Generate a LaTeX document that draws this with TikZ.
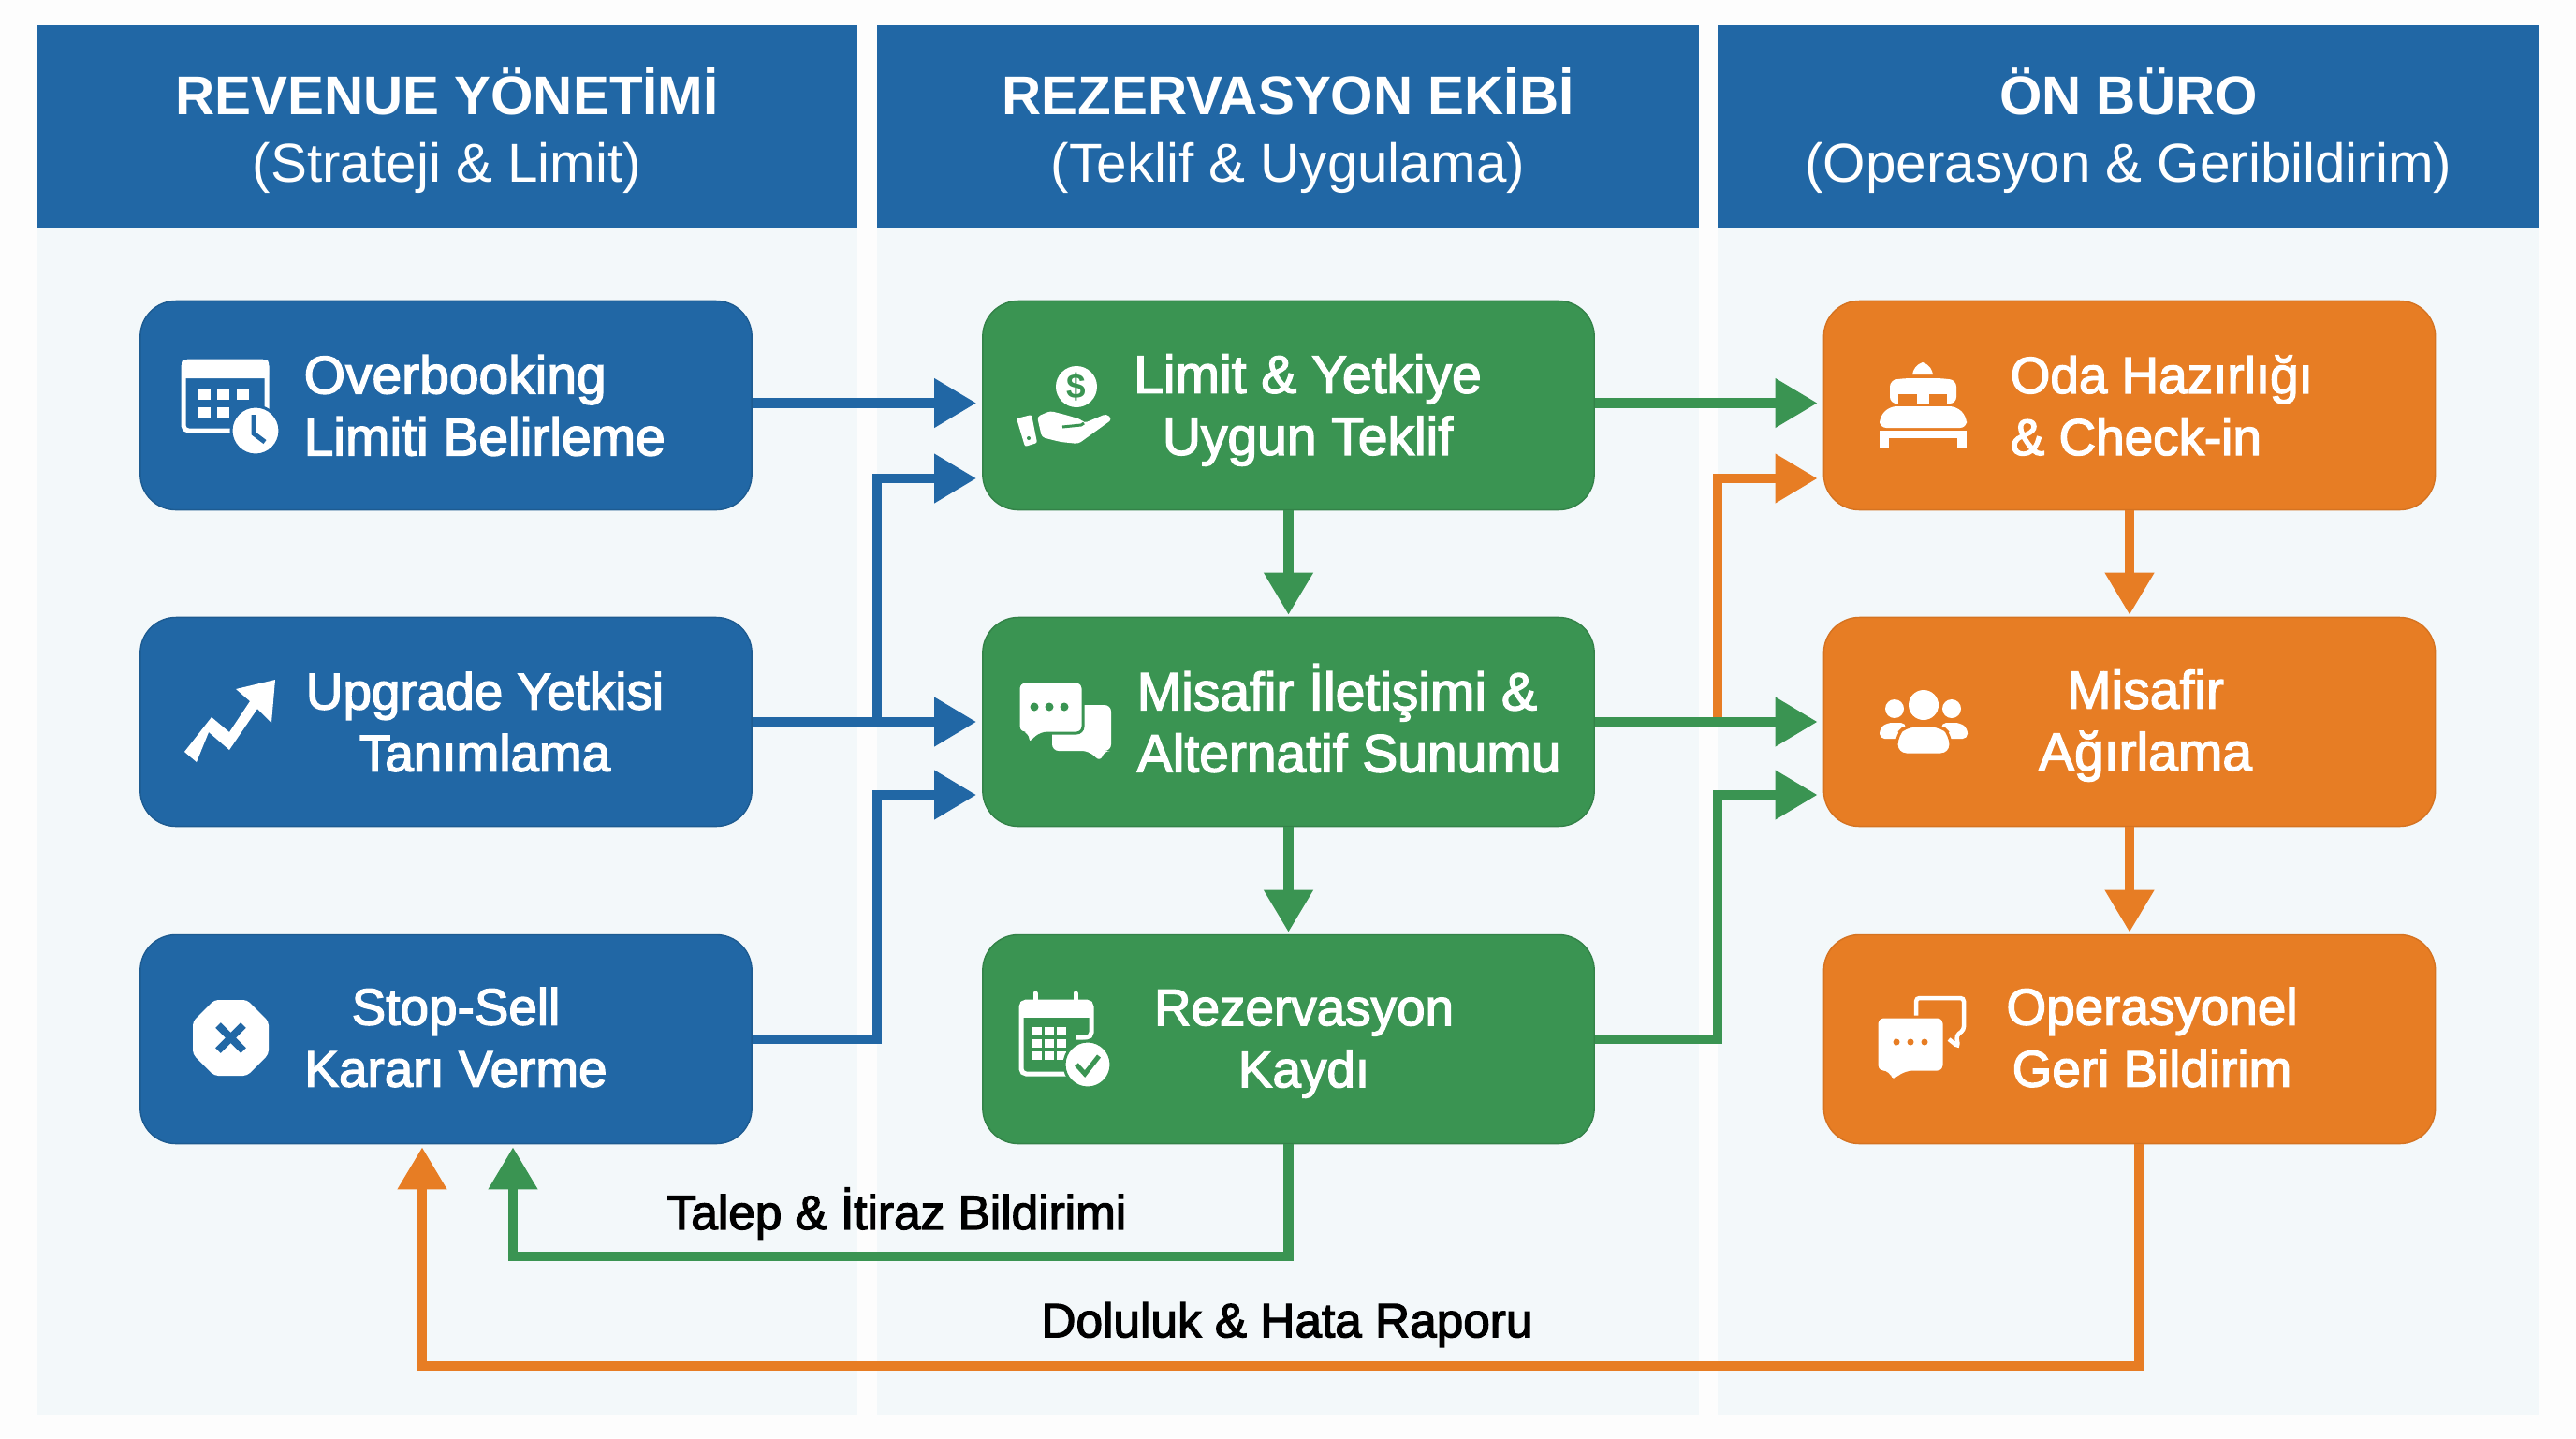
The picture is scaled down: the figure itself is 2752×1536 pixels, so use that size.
\documentclass[tikz,border=0pt]{standalone}
\usepackage{fontspec}
\setmainfont{Liberation Sans}
\newfontfamily\medfont{Liberation Sans}[FakeBold=2.5]
\usepackage{xcolor}
\usetikzlibrary{positioning,calc,arrows,arrows.meta}
\definecolor{hotelblue}{RGB}{33,103,165}
\definecolor{hotelgreen}{RGB}{58,148,82}
\definecolor{hotelorange}{RGB}{231,125,36}
\definecolor{panelbg}{RGB}{243,248,250}
\definecolor{pagebg}{RGB}{253,253,253}
\tikzset{
    headbox/.style={fill=hotelblue,minimum width=8.77cm,minimum height=2.17cm,inner sep=0pt,
        text=white,align=center,font=\fontsize{16.6}{20.5}\selectfont},
    panelbox/.style={fill=panelbg,minimum width=8.77cm,minimum height=12.67cm,inner sep=0pt},
    flowbox/.style={minimum width=6.53cm,minimum height=2.23cm,inner sep=0pt,rounded corners=0.38cm,line width=0.4pt},
    bluebox/.style={flowbox,fill=hotelblue,draw=hotelblue!88!black},
    greenbox/.style={flowbox,fill=hotelgreen,draw=hotelgreen!88!black},
    orangebox/.style={flowbox,fill=hotelorange,draw=hotelorange!92!black},
    boxtext/.style={text=white,inner sep=0pt,font=\medfont\fontsize{16.2}{18.8}\selectfont},
    boxtextsm/.style={text=white,inner sep=0pt,font=\medfont\fontsize{15.6}{18.8}\selectfont},
    flowlabel/.style={text=black,inner sep=0pt,font=\medfont\fontsize{14.6}{17}\selectfont},
    flowline/.style={line width=0.105cm,->,shorten >=0.06cm},
    bluearrow/.style={flowline,draw=hotelblue},
    greenarrow/.style={flowline,draw=hotelgreen},
    orangearrow/.style={flowline,draw=hotelorange},
}
\begin{document}
\begin{tikzpicture}[x=0.01cm,y=-0.01cm,>={Triangle[length=0.45cm,width=0.5cm]}]
    \useasboundingbox (0,0) rectangle (2752,1536);
    \fill[pagebg] (0,0) rectangle (2752,1536);

    %Columns
    \node[panelbox] (leftpanel) at (477.5,877.5) {};
    \node[panelbox] (midpanel) at (1376,877.5) {};
    \node[panelbox] (rightpanel) at (2274,877.5) {};
    \node[headbox] (revhead) at (477.5,135.5) {{\bfseries\rule{0pt}{16.5pt}REVENUE YÖNETİMİ}\\(Strateji \& Limit)};
    \node[headbox] (rezhead) at (1376,135.5) {{\bfseries\rule{0pt}{16.5pt}REZERVASYON EKİBİ}\\(Teklif \& Uygulama)};
    \node[headbox] (onhead) at (2274,135.5) {{\bfseries\rule{0pt}{16.5pt}ÖN BÜRO}\\(Operasyon \& Geribildirim)};

    %Boxes
    \node[bluebox] (over) at (476.5,433) {};
    \node[bluebox] (upgr) at (476.5,771) {};
    \node[bluebox] (stop) at (476.5,1110) {};
    \node[greenbox] (limit) at (1376.5,433) {};
    \node[greenbox] (guest) at (1376.5,771) {};
    \node[greenbox] (kayit) at (1376.5,1110) {};
    \node[orangebox] (oda) at (2275,433) {};
    \node[orangebox] (agir) at (2275,771) {};
    \node[orangebox] (oper) at (2275,1110) {};

    %Box texts
    \node[boxtext,align=left,anchor=west] (overtx) at (324,433) {Overbooking\\Limiti Belirleme};
    \node[boxtextsm,align=center] (upgrtx) at (518,771) {Upgrade Yetkisi\\Tanımlama};
    \node[boxtextsm,align=center] (stoptx) at (487,1108) {Stop-Sell\\Kararı Verme};
    \node[boxtext,align=center] (limittx) at (1397,438) {Limit \& Yetkiye\\Uygun Teklif};
    \node[boxtext,align=left,anchor=west] (guesttx) at (1214,767) {Misafir İletişimi \&\\Alternatif Sunumu};
    \node[boxtextsm,align=center] (kayittx) at (1393,1115) {Rezervasyon\\Kaydı};
    \node[boxtextsm,align=left,anchor=west] (odatx) at (2147,433) {Oda Hazırlığı\\\& Check-in};
    \node[boxtext,align=center] (agirtx) at (2292,775) {Misafir\\Ağırlama};
    \node[boxtextsm,align=center] (opertx) at (2299,1108) {Operasyonel\\Geri Bildirim};

    %Helper points
    \coordinate (limitlow) at ($(limit.west)+(0,78)$);
    \coordinate (guestlow) at ($(guest.west)+(0,78)$);
    \coordinate (odalow) at ($(oda.west)+(0,78)$);
    \coordinate (agirlow) at ($(agir.west)+(0,78)$);
    \coordinate (bluejoin) at (937,771);
    \coordinate (bluebend) at (937,1110);
    \coordinate (orangejoin) at (1835,771);
    \coordinate (greenbend) at (1835,1110);
    \coordinate (talepin) at ($(stop.south)+(71.5,3)$);
    \coordinate (dolulukin) at ($(stop.south)+(-25.5,3)$);
    \coordinate (talepturn) at (1376.5,1342);
    \coordinate (dolulukturn) at (2285,1459);
    \coordinate (operout) at (2285,1222);

    %Lines
    \draw[bluearrow] ([yshift=0.025cm]over.east) -- ([yshift=0.025cm]limit.west);
    \draw[bluearrow] (bluejoin) |- (limitlow);
    \draw[bluearrow] (upgr.east) -- (guest.west);
    \draw[bluearrow] (stop.east) -- (bluebend) |- (guestlow);
    \draw[orangearrow] (orangejoin) |- (odalow);
    \draw[greenarrow] ([yshift=0.025cm]limit.east) -- ([yshift=0.025cm]oda.west);
    \draw[greenarrow] (guest.east) -- (agir.west);
    \draw[greenarrow] (kayit.east) -- (greenbend) |- (agirlow);
    \draw[greenarrow,shorten >=0.02cm] (limit.south) -- (guest.north);
    \draw[greenarrow,shorten >=0.02cm] (guest.south) -- (kayit.north);
    \draw[orangearrow,shorten >=0.02cm] (oda.south) -- (agir.north);
    \draw[orangearrow,shorten >=0.02cm] (agir.south) -- (oper.north);
    \draw[greenarrow,shorten >=0pt] (kayit.south) -- (talepturn) -| (talepin);
    \draw[orangearrow,shorten >=0pt] (operout) -- (dolulukturn) -| (dolulukin);

    %Line labels
    \node[flowlabel] (talep) at (958,1296) {Talep \& İtiraz Bildirimi};
    \node[flowlabel] (doluluk) at (1375,1415) {Doluluk \& Hata Raporu};

    %Icon calendar and clock
    \draw[white,line width=0.05cm,rounded corners=1.5pt] (285,440) -- (285,386) -- (196,386) -- (196,460) -- (262,460);
    \fill[white,rounded corners=1pt] (194,384) rectangle (287,404);
    \foreach \ix/\iy in {212/415,232/415,253/415,212/435,232/435}
        \fill[white] (\ix,\iy) rectangle ++(13,12);
    \fill[white,draw=hotelblue,line width=0.03cm] (273,460) circle (26);
    \draw[hotelblue,line width=0.05cm] (271,443) -- (271,463) -- (283,472);

    %Icon growth arrow
    \fill[white] (197,803) -- (226,766) -- (245,782) -- (267,749) -- (252,736) -- (294,726)
        -- (290,772) -- (275,757) -- (245,801) -- (223,782) -- (210,814) -- cycle;

    %Icon stop sign
    \fill[white,rounded corners=1.2pt] (229,1068) -- (264,1068) -- (287,1091) -- (287,1126)
        -- (264,1149) -- (229,1149) -- (206,1126) -- (206,1091) -- cycle;
    \draw[hotelblue,line width=0.08cm] (233,1095) -- (260,1122) (260,1095) -- (233,1122);

    %Icon hand and coin
    \fill[white] (1150,413) circle (22);
    \node[text=hotelgreen,inner sep=0pt,font=\bfseries\fontsize{10.5}{11}\selectfont] (coin) at (1150,413) {\$};
    \fill[white,rounded corners=0.6pt] (1086,447) -- (1102,443) -- (1108,473) -- (1095,477) -- cycle;
    \fill[hotelgreen] (1099,468) circle (2);
    \fill[white,rounded corners=1pt] (1108,445) -- (1122,439) -- (1138,443) -- (1155,448) -- (1158,452)
        -- (1182,442) -- (1188,448) -- (1152,474) -- (1133,472) -- (1113,467) -- cycle;
    \draw[hotelgreen,line width=0.03cm] (1135,456) -- (1155,454) -- (1158,452);

    %Icon chat bubbles
    \fill[white,rounded corners=2pt] (1124,753) -- (1187,753) -- (1187,802) -- (1179,802) -- (1176,814)
        -- (1163,802) -- (1124,802) -- cycle;
    \fill[white,draw=hotelgreen,line width=0.03cm,rounded corners=2pt] (1088,728) -- (1157,728) -- (1157,783)
        -- (1112,783) -- (1098,796) -- (1098,783) -- (1088,783) -- cycle;
    \foreach \ix in {1105,1121,1137}
        \fill[hotelgreen] (\ix,755) circle (4.5);

    %Icon calendar and check
    \draw[white,line width=0.05cm,rounded corners=1.5pt] (1150,1108) -- (1166,1108) -- (1166,1070) -- (1091,1070)
        -- (1091,1147) -- (1140,1147);
    \fill[white] (1090,1070) rectangle (1167,1087);
    \draw[white,line width=0.05cm,line cap=round] (1106,1061) -- (1106,1073) (1149,1061) -- (1149,1073);
    \foreach \ix in {1103,1116,1129}
        \foreach \iy in {1097,1110,1123}
            \fill[white] (\ix,\iy) rectangle ++(10,9);
    \fill[white,draw=hotelgreen,line width=0.03cm] (1162,1137) circle (25);
    \draw[hotelgreen,line width=0.05cm] (1150,1137) -- (1159,1147) -- (1174,1128);

    %Icon bed
    \fill[white] (2054,387) .. controls (2046,390) and (2044,395) .. (2043,400) -- (2065,400)
        .. controls (2064,395) and (2062,390) .. (2054,387) -- cycle;
    \fill[white,rounded corners=2pt] (2019,431) -- (2019,406) -- (2036,404) -- (2073,404) -- (2090,406) -- (2090,431) -- cycle;
    \fill[hotelorange] (2028,421) rectangle (2048,432);
    \fill[hotelorange] (2061,421) rectangle (2080,432);
    \fill[white,rounded corners=2pt] (2008,457) -- (2008,445) -- (2019,434) -- (2090,434) -- (2101,445) -- (2101,457) -- cycle;
    \fill[white] (2008,460) rectangle (2101,468);
    \fill[white] (2008,465) rectangle (2018,478);
    \fill[white] (2091,465) rectangle (2101,478);

    %Icon guests
    \fill[white] (2024,757) circle (10);
    \fill[white] (2085,757) circle (10);
    \fill[white,rounded corners=1.5pt] (2008,789) -- (2008,778) -- (2016,772) -- (2036,772) -- (2036,789) -- cycle;
    \fill[white,rounded corners=1.5pt] (2102,789) -- (2102,778) -- (2094,772) -- (2074,772) -- (2074,789) -- cycle;
    \fill[white] (2055,753) circle (16);
    \fill[white,draw=hotelorange,line width=0.03cm,rounded corners=3pt] (2026,806) -- (2026,785) -- (2036,775)
        -- (2074,775) -- (2084,785) -- (2084,806) -- cycle;

    %Icon feedback bubbles
    \draw[white,line width=0.045cm,rounded corners=1pt] (2047,1088) -- (2047,1066) -- (2098,1066) -- (2098,1100)
        -- (2090,1106) -- (2092,1118) -- (2082,1110);
    \fill[white,draw=hotelorange,line width=0.03cm,rounded corners=2pt] (2005,1086) -- (2077,1086) -- (2077,1145)
        -- (2037,1145) -- (2020,1156) -- (2018,1145) -- (2005,1145) -- cycle;
    \foreach \ix in {2026,2041,2056}
        \fill[hotelorange] (\ix,1113) circle (3.5);
\end{tikzpicture}
\end{document}
